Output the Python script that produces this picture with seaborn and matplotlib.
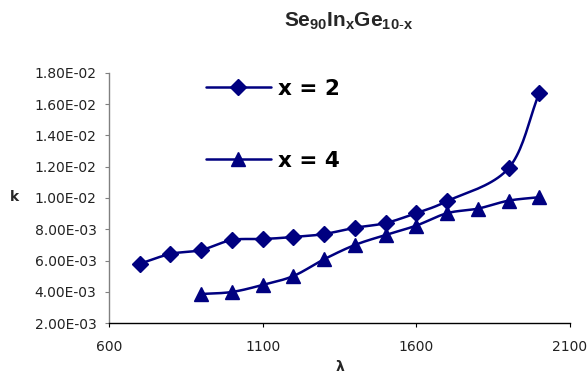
import numpy as np
import pandas as pd
import matplotlib
matplotlib.use("Agg")
import matplotlib.pyplot as plt
import seaborn as sns
from matplotlib.ticker import FuncFormatter, MultipleLocator

sns.set_style("white")
plt.rcParams["font.family"] = ["DejaVu Sans"]
plt.rcParams["mathtext.fontset"] = "custom"
plt.rcParams["mathtext.rm"] = "Liberation Sans"
plt.rcParams["mathtext.bf"] = "Liberation Sans:bold"

# wavelength (nm) and extinction coefficient k for each composition
wl_x2 = [700, 800, 900, 1000, 1100, 1200, 1300, 1400, 1500, 1600, 1700, 1900, 2000]
k_x2 = [0.00580, 0.00643, 0.00668, 0.00732, 0.00738, 0.00751, 0.00770,
        0.00810, 0.00840, 0.00904, 0.00980, 0.01190, 0.01670]

wl_x4 = [900, 1000, 1100, 1200, 1300, 1400, 1500, 1600, 1700, 1800, 1900, 2000]
k_x4 = [0.00387, 0.00400, 0.00445, 0.00502, 0.00609, 0.00700, 0.00764,
        0.00824, 0.00903, 0.00932, 0.00983, 0.01005]

labels = ["x = 2", "x = 4"]
xticks = [600, 1100, 1600, 2100]

NAVY = "#000080"


def smooth(x, y, n=20):
    """Catmull-Rom curve through the points (smoothed line like a spreadsheet chart)."""
    x = np.asarray(x, float)
    y = np.asarray(y, float)
    px = np.concatenate([[2 * x[0] - x[1]], x, [2 * x[-1] - x[-2]]])
    py = np.concatenate([[2 * y[0] - y[1]], y, [2 * y[-1] - y[-2]]])
    xs, ys = [], []
    t = np.linspace(0, 1, n, endpoint=False)
    for i in range(1, len(px) - 2):
        for arr, out in ((px, xs), (py, ys)):
            p0, p1, p2, p3 = arr[i - 1], arr[i], arr[i + 1], arr[i + 2]
            out.append(0.5 * ((2 * p1) + (-p0 + p2) * t
                              + (2 * p0 - 5 * p1 + 4 * p2 - p3) * t ** 2
                              + (-p0 + 3 * p1 - 3 * p2 + p3) * t ** 3))
    xs.append([x[-1]])
    ys.append([y[-1]])
    return np.concatenate(xs), np.concatenate(ys)


fig = plt.figure(figsize=(5.88, 3.81), dpi=100)
ax = fig.add_axes([109 / 588, 1 - 323.3 / 381, (570 - 109) / 588, (323.3 - 72.7) / 381])

series = [(wl_x2, k_x2, "D", 8.5), (wl_x4, k_x4, "^", 10.5)]
handles = []
for (wl, k, mk, ms), lab in zip(series, labels):
    sx, sy = smooth(wl, k)
    curve = pd.DataFrame({"wl": sx, "k": sy})
    sns.lineplot(data=curve, x="wl", y="k", ax=ax, color=NAVY, lw=1.8,
                 sort=False, estimator=None, legend=False)
    pts = pd.DataFrame({"wl": wl, "k": k})
    ax.plot(pts["wl"], pts["k"], linestyle="none", marker=mk, ms=ms,
            color=NAVY, mec=NAVY, zorder=3)
    h, = ax.plot([], [], color=NAVY, lw=1.8, marker=mk, ms=ms, mec=NAVY, label=lab)
    handles.append(h)

ax.set_xlim(600, 2100)
ax.set_ylim(0.002, 0.018)
ax.set_xticks(xticks)
ax.yaxis.set_major_locator(MultipleLocator(0.002))
ax.yaxis.set_major_formatter(FuncFormatter(lambda v, p: f"{v:.2E}"))

for side in ["top", "right"]:
    ax.spines[side].set_visible(False)
ax.spines["left"].set_color("#808080")
ax.spines["left"].set_linewidth(1.0)
ax.spines["bottom"].set_color("black")
ax.spines["bottom"].set_linewidth(1.0)
ax.tick_params(axis="y", direction="out", length=3, width=0.8, colors="#808080",
               labelcolor="#222222", labelsize=10, pad=6, left=True)
ax.tick_params(axis="x", direction="out", length=3, width=0.8, colors="black",
               labelcolor="#222222", labelsize=10, pad=9, bottom=True)

ax.set_xlabel("")
ax.set_ylabel("")
fig.text(14 / 588, 1 - 197 / 381, "k", fontsize=10, fontweight="bold", ha="center", va="center")
fig.text(340 / 588, 1 - 367 / 381, "λ", fontsize=10, fontweight="bold", ha="center", va="center")
fig.text(349 / 588, 1 - 21 / 381, r"$\mathbf{Se_{90}In_{x}Ge_{10\text{-}x}}$",
         fontsize=15, ha="center", va="center")

leg = fig.legend(handles=handles, loc="upper left",
                 bbox_to_anchor=(206 / 588, 1 - 79 / 381), bbox_transform=fig.transFigure,
                 frameon=False, prop={"family": "DejaVu Sans", "weight": "bold", "size": 15.5},
                 handlelength=3.0, labelspacing=2.4, handletextpad=0.35,
                 borderaxespad=0, borderpad=0)
for t in leg.get_texts():
    t.set_fontweight("bold")
    t.set_color("black")

fig.savefig("out.png", dpi=100)
